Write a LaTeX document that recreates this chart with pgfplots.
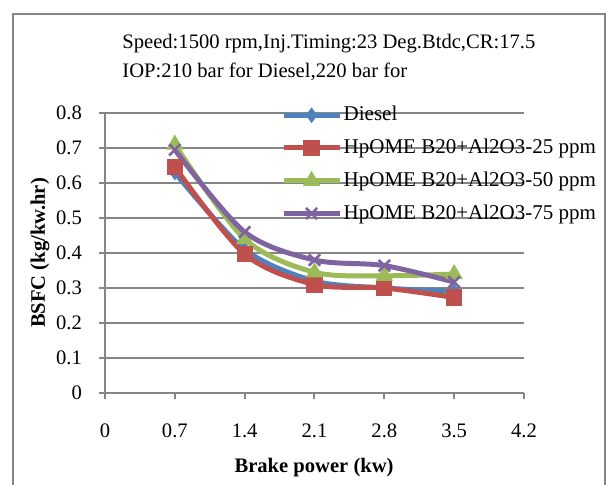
\documentclass[border=0pt]{standalone}
\usepackage{fontspec}
\setmainfont{Liberation Serif}
\usepackage{pgfplots}
\pgfplotsset{compat=1.18}
\definecolor{xgrid}{HTML}{868686}
\definecolor{cblue}{HTML}{4F81BD}
\definecolor{cred}{HTML}{C0504D}
\definecolor{cgreen}{HTML}{9BBB59}
\definecolor{cpurple}{HTML}{8064A2}
\begin{document}
\begin{tikzpicture}
\begin{axis}[
    scale only axis,
    width=209.5pt, height=140pt,
    xmin=0, xmax=4.2, ymin=0, ymax=0.8,
    xtick={0,0.7,1.4,2.1,2.8,3.5,4.2},
    xticklabels={0,0.7,1.4,2.1,2.8,3.5,4.2},
    ytick={0,0.1,0.2,0.3,0.4,0.5,0.6,0.7,0.8},
    yticklabels={0,0.1,0.2,0.3,0.4,0.5,0.6,0.7,0.8},
    axis x line*=bottom, axis y line*=left,
    axis line style={xgrid, line width=1pt},
    ymajorgrids,
    grid style={xgrid, line width=1pt},
    tick style={xgrid, line width=1pt},
    tick align=outside, major tick length=3pt,
    ticklabel style={font=\fontsize{10.3}{12}\selectfont},
    xticklabel style={yshift=-9pt},
    yticklabel style={xshift=-5pt},
    xlabel={\textbf{Brake power (kw)}},
    ylabel={\textbf{BSFC (kg/kw.hr)}},
    label style={font=\fontsize{10.3}{12}\selectfont},
    xlabel style={at={(axis description cs:0.499,-0.268)}, anchor=center},
    ylabel style={at={(axis description cs:-0.155,0.5)}, anchor=center},
    legend style={at={(rel axis cs:0.405,1.045)}, anchor=north west,
        draw=none, fill=none, font=\fontsize{10.5}{12}\selectfont,
        row sep=6pt, nodes={inner sep=0.8pt}},
    legend cell align=left,
    legend image code/.code={\draw[mark repeat=2,mark phase=2]
        plot coordinates {(0pt,0pt)(14pt,0pt)(28pt,0pt)};},
    every axis plot/.append style={line width=2.5pt, smooth},
]
\addplot[cblue, mark=diamond*, mark size=3.5pt, mark options={line width=0.5pt}]
    coordinates {(0.7,0.63) (1.4,0.41) (2.1,0.32) (2.8,0.30) (3.5,0.29)};
\addlegendentry{Diesel}
\addplot[cred, mark=square*, mark size=3.8pt, mark options={line width=0.5pt}]
    coordinates {(0.7,0.646) (1.4,0.397) (2.1,0.31) (2.8,0.30) (3.5,0.273)};
\addlegendentry{HpOME B20+Al2O3-25 ppm}
\addplot[cgreen, mark=triangle*, mark size=4.5pt, mark options={line width=0.5pt}]
    coordinates {(0.7,0.71) (1.4,0.44) (2.1,0.345) (2.8,0.335) (3.5,0.34)};
\addlegendentry{HpOME B20+Al2O3-50 ppm}
\addplot[cpurple, mark=x, mark size=4pt, mark options={line width=1.3pt}]
    coordinates {(0.7,0.695) (1.4,0.46) (2.1,0.38) (2.8,0.364) (3.5,0.317)};
\addlegendentry{HpOME B20+Al2O3-75 ppm}
\end{axis}
\node[anchor=west, align=left, inner sep=0pt, font=\fontsize{10.3}{14.5}\selectfont]
    at (8.5pt,167.75pt) {Speed:1500 rpm,Inj.Timing:23 Deg.Btdc,CR:17.5\\IOP:210 bar for Diesel,220 bar for};
\draw[xgrid, line width=1.2pt] (-46pt,-60pt) -- (-46pt,189.5pt) -- (250pt,189.5pt) -- (250pt,-60pt);
\pgfresetboundingbox
\path[use as bounding box] (-52.5pt,-45.5pt) rectangle (252.5pt,196.5pt);
\end{tikzpicture}
\end{document}
